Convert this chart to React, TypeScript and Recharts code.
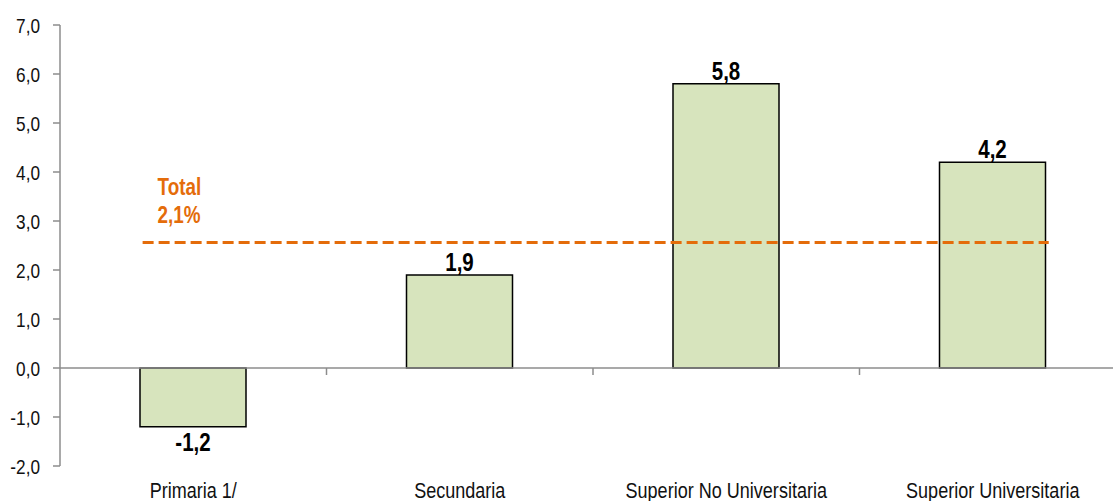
import {
  Bar,
  BarChart,
  LabelList,
  ReferenceLine,
  XAxis,
  YAxis,
} from "recharts";

const categories = [
  "Primaria 1/",
  "Secundaria",
  "Superior No Universitaria",
  "Superior Universitaria",
];
const values = [-1.2, 1.9, 5.8, 4.2];
const yTicks = [-2, -1, 0, 1, 2, 3, 4, 5, 6, 7];
// dashed "Total" line as drawn, in band units across the 4 categories
const totalLineLevel = 2.56;
const totalLineStart = 0.31;
const totalLineEnd = 3.71;
const totalLabel = ["Total", "2,1%"];

const data = categories.map((c, i) => ({ name: c, value: values[i] }));

// Arial Narrow look: Arial-metric font squeezed horizontally
const FONT = "'Liberation Sans', Arial, sans-serif";
const NARROW = 0.82;
const ORANGE = "#E46C0A";
const fmt = (v: number) => v.toFixed(1).replace(".", ",");

function NarrowText({ x, y, anchor, size, bold, fill, children }: any) {
  return (
    <text
      transform={`translate(${x},${y}) scale(${NARROW},1)`}
      textAnchor={anchor}
      fontFamily={FONT}
      fontSize={size}
      fontWeight={bold ? "bold" : "normal"}
      fill={fill}
    >
      {children}
    </text>
  );
}

function YTick(props: any) {
  const { x, y, payload } = props;
  return (
    <NarrowText x={x} y={y + 7.5} anchor="end" size={21} fill="#111">
      {fmt(payload.value)}
    </NarrowText>
  );
}

function XTick(props: any) {
  const { x, y, payload } = props;
  return (
    <NarrowText x={x} y={y + 32} anchor="middle" size={22} fill="#111">
      {payload.value}
    </NarrowText>
  );
}

function ValueLabel(props: any) {
  const { x, y, width, height, value } = props;
  const cx = x + width / 2;
  const top = Math.min(y, y + height);
  const bottom = Math.max(y, y + height);
  return (
    <NarrowText
      x={cx}
      y={value < 0 ? bottom + 24 : top - 4}
      anchor="middle"
      size={25}
      bold
      fill="#000"
    >
      {fmt(value)}
    </NarrowText>
  );
}

function ZeroLine(props: any) {
  const { x1, x2, y1 } = props;
  const band = (x2 - x1) / categories.length;
  const ticks = categories.slice(1).map((_, i) => x1 + band * (i + 1));
  return (
    <g>
      <line x1={x1} x2={x2} y1={y1} y2={y1} stroke="#8c8c8c" strokeWidth={1.5} />
      {ticks.map((t) => (
        <line key={t} x1={t} x2={t} y1={y1} y2={y1 + 7} stroke="#8c8c8c" strokeWidth={1.5} />
      ))}
    </g>
  );
}

function TotalLine(props: any) {
  const { x1, x2, y1 } = props;
  const band = (x2 - x1) / categories.length;
  const sx = x1 + band * totalLineStart;
  const ex = x1 + band * totalLineEnd;
  return (
    <g>
      <line
        x1={sx}
        x2={ex}
        y1={y1}
        y2={y1}
        stroke={ORANGE}
        strokeWidth={3}
        strokeDasharray="11 5"
      />
      <NarrowText x={sx + 15} y={y1 - 48} anchor="start" size={23} bold fill={ORANGE}>
        {totalLabel[0]}
      </NarrowText>
      <NarrowText x={sx + 15} y={y1 - 20} anchor="start" size={23} bold fill={ORANGE}>
        {totalLabel[1]}
      </NarrowText>
    </g>
  );
}

export default function App() {
  return (
    <div
      style={{
        position: "absolute",
        left: 0,
        top: 0,
        width: 1113,
        height: 501,
        overflow: "hidden",
        background: "#fff",
      }}
    >
      <BarChart
        width={1126}
        height={501}
        data={data}
        margin={{ top: 25, right: 0, bottom: 0, left: 0 }}
      >
        <XAxis
          dataKey="name"
          height={35}
          axisLine={false}
          tickLine={false}
          tickSize={0}
          tickMargin={0}
          tick={<XTick />}
          interval={0}
        />
        <YAxis
          width={60}
          domain={[-2, 7]}
          ticks={yTicks}
          axisLine={{ stroke: "#8c8c8c", strokeWidth: 1.5 }}
          tickLine={{ stroke: "#8c8c8c", strokeWidth: 1.5 }}
          tickSize={7}
          tickMargin={13}
          tick={<YTick />}
        />
        <ReferenceLine y={0} shape={<ZeroLine />} />
        <Bar
          dataKey="value"
          fill="#D7E4BD"
          stroke="#000"
          strokeWidth={1.5}
          barSize={106}
          isAnimationActive={false}
        >
          <LabelList dataKey="value" content={<ValueLabel />} />
        </Bar>
        <ReferenceLine y={totalLineLevel} shape={<TotalLine />} />
      </BarChart>
    </div>
  );
}
